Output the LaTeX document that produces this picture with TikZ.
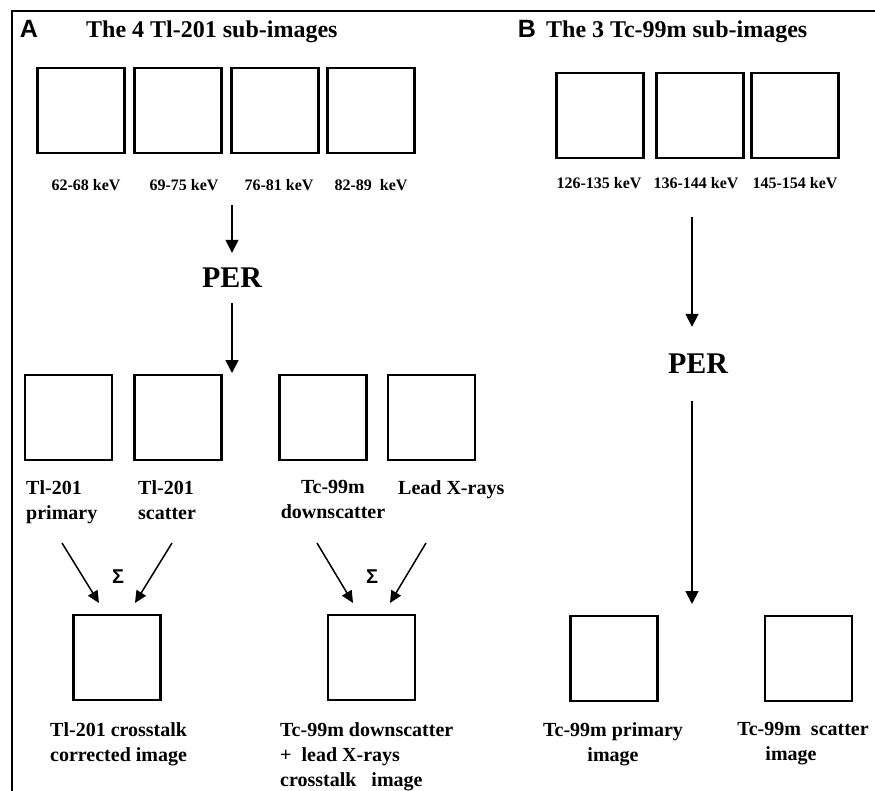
\documentclass[tikz,border=0pt]{standalone}
\usepackage{fontspec}
\setmainfont{Liberation Serif}
\newfontfamily\panelfont{Liberation Sans}
\usetikzlibrary{arrows.meta}
\tikzset{
  img/.style={draw,line width=2.2pt,minimum width=87pt,minimum height=85pt,inner sep=0pt},
  arr/.style={-{Triangle[width=13pt,length=13pt]},line width=1.7pt},
  sumarr/.style={-{Triangle[width=11pt,length=12pt]},line width=1.5pt},
  lab/.style={font=\fontsize{20}{25}\selectfont\bfseries,inner sep=0pt},
  kev/.style={font=\fontsize{16}{19}\selectfont\bfseries,inner sep=0pt},
  ttl/.style={font=\fontsize{24}{28}\selectfont\bfseries,inner sep=0pt,anchor=west},
  per/.style={font=\fontsize{30}{34}\selectfont\bfseries,inner sep=0pt},
  panel/.style={font=\panelfont\fontsize{25}{28}\selectfont\bfseries,inner sep=0pt},
  sigma/.style={font=\panelfont\fontsize{20}{22}\selectfont\bfseries,inner sep=0pt},
}

\begin{document}
\begin{tikzpicture}[x=1pt,y=-1pt]
  \useasboundingbox (0,0) rectangle (875,791);
  \draw[line width=1.5pt] (12,791) -- (12,11) -- (875,11);

  % panel A: sub-images
  \node[panel] (lblA) at (29,29) {A};
  \node[ttl] (ttlA) at (86,32) {The 4 Tl-201 sub-images};
  \node[img] (tl1) at (81,110.5) {};
  \node[img] (tl2) at (178,110.5) {};
  \node[img] (tl3) at (275,110.5) {};
  \node[img] (tl4) at (371,110.5) {};
  \node[kev] (kev1) at (86,185) {62-68 keV};
  \node[kev] (kev2) at (184,185) {69-75 keV};
  \node[kev] (kev3) at (279,185) {76-81 keV};
  \node[kev] (kev4) at (371,185) {82-89\ \ keV};

  \coordinate (perAin) at (232,205);
  \node[per,minimum height=50pt] (perA) at (232,278) {PER};
  \coordinate (perAout) at (232,373);
  \draw[arr] (perAin) -- (perA);
  \draw[arr] (perA) -- (perAout);

  % panel A: PER outputs
  \node[img] (tlprim) at (68.5,417.5) {};
  \node[img] (tlscat) at (178,417.5) {};
  \node[img] (tcdown) at (323,417.5) {};
  \node[img] (lead) at (431.5,417.5) {};
  \node[lab,anchor=north west,align=left] (tlprimtxt) at (26,480) {Tl-201\\primary};
  \node[lab,anchor=north west,align=left] (tlscattxt) at (138,480) {Tl-201\\scatter};
  \node[lab,anchor=north,align=center] (tcdowntxt) at (333,480) {Tc-99m\\downscatter};
  \node[lab,anchor=north west] (leadtxt) at (398,480) {Lead X-rays};

  % sums
  \coordinate (s1a) at (62,543);  \coordinate (e1a) at (99,603);
  \coordinate (s1b) at (172,543); \coordinate (e1b) at (135,603);
  \coordinate (s2a) at (317,543); \coordinate (e2a) at (353,603);
  \coordinate (s2b) at (426,543); \coordinate (e2b) at (390,603);
  \node[sigma] (sumA) at (118,577) {Σ};
  \node[sigma] (sumB) at (372,577) {Σ};
  \draw[sumarr] (s1a) -- (e1a);
  \draw[sumarr] (s1b) -- (e1b);
  \draw[sumarr] (s2a) -- (e2a);
  \draw[sumarr] (s2b) -- (e2b);

  \node[img] (tlcorr) at (117,657.5) {};
  \node[img] (tccross) at (371.5,657.5) {};
  \node[lab,anchor=north west,align=left] (tlcorrtxt) at (50,722) {Tl-201 crosstalk\\corrected image};
  \node[lab,anchor=north west,align=left] (tccrosstxt) at (280,722) {Tc-99m downscatter\\+\ \ lead X-rays\\crosstalk\ \ \ image};

  % panel B
  \node[panel] (lblB) at (527,29) {B};
  \node[ttl] (ttlB) at (546,32) {The 3 Tc-99m sub-images};
  \node[img] (tc1) at (600,115.5) {};
  \node[img] (tc2) at (700,115.5) {};
  \node[img] (tc3) at (795,115.5) {};
  \node[kev] (kev5) at (599,183) {126-135 keV};
  \node[kev] (kev6) at (696,183) {136-144 keV};
  \node[kev] (kev7) at (795,183) {145-154 keV};

  \coordinate (perBin) at (692,217);
  \node[per,minimum height=74pt] (perB) at (698,364) {PER};
  \coordinate (perBout) at (692,604);
  \draw[arr] (perBin) -- (perBin |- perB.north);
  \draw[arr] (perBin |- perB.south) -- (perBout);

  \node[img] (tcprim) at (614,658.5) {};
  \node[img] (tcscat) at (808.5,658.5) {};
  \node[lab,anchor=north,align=center] (tcprimtxt) at (613,722) {Tc-99m primary\\image};
  \node[lab,anchor=north,align=center] (tcscattxt) at (803,722) {Tc-99m\ \ scatter\\image\hspace*{1.2em}};
\end{tikzpicture}
\end{document}
